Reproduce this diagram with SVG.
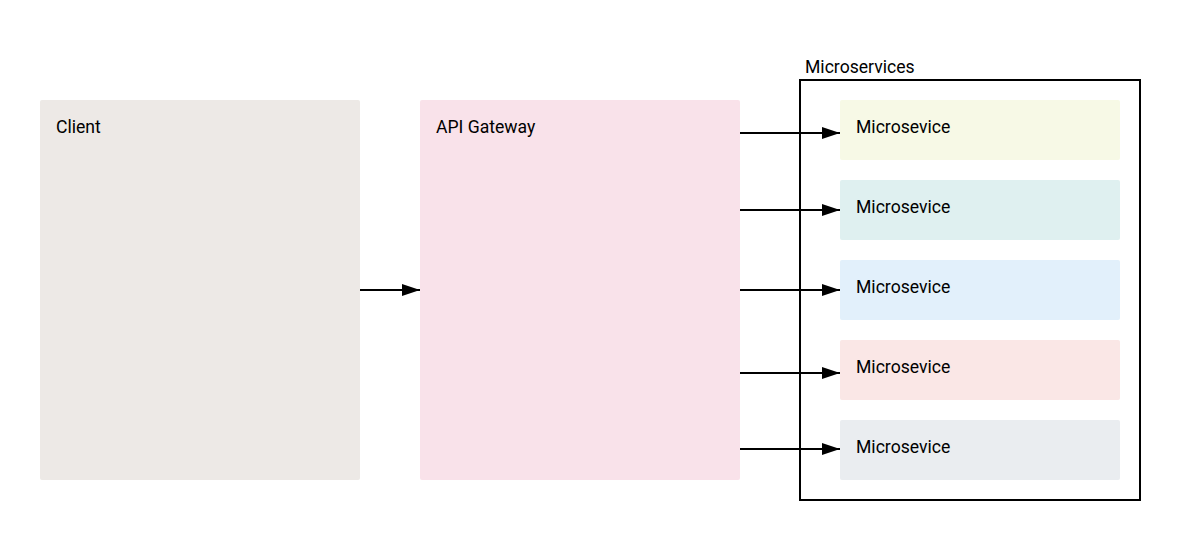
<svg xmlns="http://www.w3.org/2000/svg" width="1180" height="540" viewBox="0 0 1180 540">
  <defs>
    <marker id="arrow" markerWidth="18" markerHeight="12" refX="18" refY="6" orient="auto" markerUnits="userSpaceOnUse">
      <path d="M0,0 L18,6 L0,12 Z" fill="#000"/>
    </marker>
    <style>
      text { font-family: Roboto, "Liberation Sans", sans-serif; font-size: 17.6px; fill: #000; }
      .conn { stroke: #000; stroke-width: 2; fill: none; marker-end: url(#arrow); }
    </style>
  </defs>
  <rect width="1180" height="540" fill="#fff"/>
  <g id="client">
    <rect x="40" y="100" width="320" height="380" rx="2" fill="#ede9e6"/>
    <text x="56" y="133">Client</text>
  </g>
  <g id="api-gateway">
    <rect x="420" y="100" width="320" height="380" rx="2" fill="#f9e2ea"/>
    <text x="436" y="133">API Gateway</text>
  </g>
  <g id="microservices">
    <rect x="800" y="80" width="340" height="420" fill="none" stroke="#000" stroke-width="2"/>
    <text x="805" y="73">Microservices</text>
  </g>
  <g id="ms1">
    <rect x="840" y="100" width="280" height="60" rx="2" fill="#f7f9e6"/>
    <text x="856" y="133">Microsevice</text>
  </g>
  <g id="ms2">
    <rect x="840" y="180" width="280" height="60" rx="2" fill="#dff0f0"/>
    <text x="856" y="213">Microsevice</text>
  </g>
  <g id="ms3">
    <rect x="840" y="260" width="280" height="60" rx="2" fill="#e2f0fb"/>
    <text x="856" y="293">Microsevice</text>
  </g>
  <g id="ms4">
    <rect x="840" y="340" width="280" height="60" rx="2" fill="#fae7e6"/>
    <text x="856" y="373">Microsevice</text>
  </g>
  <g id="ms5">
    <rect x="840" y="420" width="280" height="60" rx="2" fill="#eaedf0"/>
    <text x="856" y="453">Microsevice</text>
  </g>
  <g id="connectors">
    <line class="conn" x1="360" y1="290" x2="420" y2="290"/>
    <line class="conn" x1="740" y1="133" x2="840" y2="133"/>
    <line class="conn" x1="740" y1="210" x2="840" y2="210"/>
    <line class="conn" x1="740" y1="290" x2="840" y2="290"/>
    <line class="conn" x1="740" y1="373" x2="840" y2="373"/>
    <line class="conn" x1="740" y1="449" x2="840" y2="449"/>
  </g>
</svg>
